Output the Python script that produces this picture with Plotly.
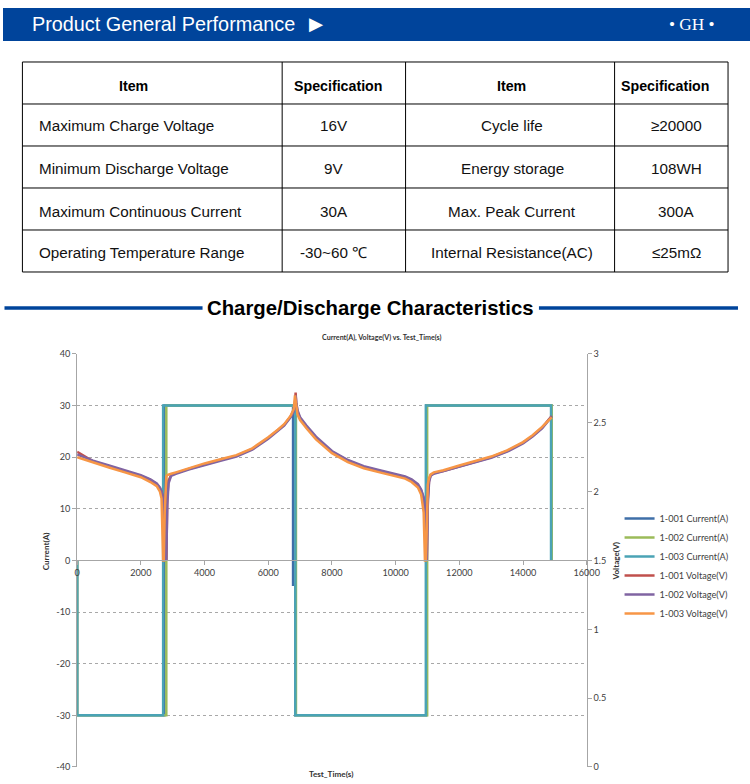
import plotly.graph_objects as go

W, H = 750, 784

# ---------------- table data ----------------
spec_header = ["Item", "Specification", "Item", "Specification"]
items_left = ["Maximum Charge Voltage", "Minimum Discharge Voltage",
              "Maximum Continuous Current", "Operating Temperature Range"]
specs_left = ["16V", "9V", "30A", "-30~60 ℃"]
items_right = ["Cycle life", "Energy storage", "Max. Peak Current", "Internal Resistance(AC)"]
specs_right = ["≥20000", "108WH", "300A", "≤25mΩ"]

# ---------------- chart data ----------------
page_title = "Product General Performance"
brand = "• GH •"
section_title = "Charge/Discharge Characteristics"
chart_title = "Current(A), Voltage(V) vs. Test_Time(s)"
x_title = "Test_Time(s)"
y_title = "Current(A)"
y2_title = "Voltage(V)"

x_ticks = [0, 2000, 4000, 6000, 8000, 10000, 12000, 14000, 16000]
current_ticks = [-40, -30, -20, -10, 0, 10, 20, 30, 40]
voltage_ticks = [0, 0.5, 1, 1.5, 2, 2.5, 3]

# Currents (A)
t_i1 = [0, 0, 2740, 2740, 6780, 6780, 6850, 6850, 10960, 10960, 14890, 14890]
i1 = [0, -30, -30, 30, 30, -4.7, -4.7, -30, -30, 30, 30, 0]
t_i2 = [0, 0, 2800, 2800, 6870, 6870, 10990, 10990, 14900, 14900]
i2 = [0, -30, -30, 30, 30, -30, -30, 30, 30, 0]
t_i3 = [0, 0, 2700, 2700, 6850, 6850, 10950, 10950, 14880, 14880]
i3 = [0, -30, -30, 30, 30, -30, -30, 30, 30, 0]

# Voltages (V)
t_v = [0, 500, 1000, 1500, 2000, 2300, 2500, 2600, 2650, 2700,
       2720, 2750, 2780, 2800, 2830, 2870, 2950, 3100, 3500, 4000,
       4500, 5000, 5500, 6000, 6300, 6500, 6700, 6800, 6840, 6860,
       6880, 6920, 7000, 7200, 7500, 8000, 8500, 9000, 9500, 10000,
       10300, 10500, 10700, 10800, 10880, 10920, 10950, 10980, 11010, 11050,
       11100, 11200, 11500, 12000, 12500, 13000, 13500, 14000, 14300, 14600,
       14900]
v1 = [2.29, 2.22, 2.185, 2.15, 2.115, 2.085, 2.055, 2.025, 2.0, 1.96,
      1.92, 1.8, 1.5, 1.5, 1.95, 2.08, 2.12, 2.135, 2.165, 2.2,
      2.23, 2.26, 2.31, 2.39, 2.445, 2.485, 2.545, 2.59, 2.64, 2.72,
      2.64, 2.58, 2.53, 2.47, 2.39, 2.29, 2.225, 2.18, 2.15, 2.125,
      2.105, 2.085, 2.05, 2.01, 1.95, 1.85, 1.6, 1.5, 1.95, 2.08,
      2.12, 2.135, 2.15, 2.185, 2.215, 2.25, 2.295, 2.355, 2.405, 2.465,
      2.55]
v2 = [2.27, 2.225, 2.19, 2.155, 2.12, 2.09, 2.06, 2.03, 2.0, 1.95,
      1.9, 1.72, 1.52, 1.5, 1.9, 2.06, 2.115, 2.13, 2.16, 2.195,
      2.225, 2.255, 2.305, 2.385, 2.44, 2.48, 2.54, 2.58, 2.63, 2.70,
      2.65, 2.59, 2.54, 2.48, 2.40, 2.295, 2.23, 2.185, 2.155, 2.13,
      2.11, 2.09, 2.055, 2.015, 1.96, 1.88, 1.65, 1.5, 1.9, 2.07,
      2.115, 2.13, 2.15, 2.18, 2.21, 2.245, 2.29, 2.35, 2.40, 2.46,
      2.545]
v3 = [2.25, 2.21, 2.175, 2.14, 2.105, 2.07, 2.04, 2.0, 1.95, 1.5,
      1.5, 1.85, 2.07, 2.11, 2.12, 2.125, 2.13, 2.14, 2.17, 2.205,
      2.235, 2.265, 2.315, 2.395, 2.45, 2.49, 2.55, 2.6, 2.7, 2.66,
      2.61, 2.56, 2.52, 2.46, 2.38, 2.28, 2.215, 2.17, 2.14, 2.115,
      2.095, 2.07, 2.03, 1.98, 1.85, 1.5, 1.5, 1.75, 2.05, 2.1,
      2.125, 2.14, 2.155, 2.19, 2.22, 2.255, 2.3, 2.36, 2.41, 2.47,
      2.54]

# ---------------- styling ----------------
BLUE = "#00449B"
FONT_S = "Lato, 'Open Sans', sans-serif"
FONT_T = "Arial, 'Liberation Sans', sans-serif"
AX = "#a6a6a6"
TXT = "#404040"

# layout positions below are given in picture pixels; these map them to paper
# fractions, allowing for the small scale/offset of the photographed page
SX, OX, SY, OY = 0.982, 2.5, 0.986, 5.0
FS = 1 / 0.984


def px(x):
    return (x - OX) / SX / W


def py(y):
    return 1 - (y - OY) / SY / H


def fs(size):
    return round(size * FS, 2)


fig = go.Figure()

current_series = [("1-001 Current(A)", t_i1, i1, "#3F6FA8"),
                  ("1-002 Current(A)", t_i2, i2, "#9BBB59"),
                  ("1-003 Current(A)", t_i3, i3, "#4AA3B5")]
voltage_series = [("1-001 Voltage(V)", v1, "#C0504D"),
                  ("1-002 Voltage(V)", v2, "#8064A2"),
                  ("1-003 Voltage(V)", v3, "#F79646")]

for name, tx, vals, col in current_series:
    fig.add_trace(go.Scatter(x=tx, y=vals, name=name, mode="lines",
                             line=dict(color=col, width=2.5), yaxis="y"))
for name, vals, col in voltage_series:
    fig.add_trace(go.Scatter(x=t_v, y=vals, name=name, mode="lines",
                             line=dict(color=col, width=2.5), yaxis="y2"))

ydom = [py(766), py(353)]
tickfont = dict(family=FONT_S, size=fs(9), color=TXT)
fig.update_layout(
    width=W, height=H, margin=dict(l=0, r=0, t=0, b=0),
    paper_bgcolor="white", plot_bgcolor="white",
    showlegend=True,
    legend=dict(x=px(622), y=py(503), xanchor="left", yanchor="top",
                font=dict(family=FONT_S, size=fs(9), color=TXT), itemwidth=30,
                bgcolor="rgba(0,0,0,0)"),
    xaxis=dict(domain=[px(77), px(589)], range=[0, 16000], tickvals=x_ticks,
               tickformat="d",
               anchor="free", position=(ydom[0] + ydom[1]) / 2,
               showline=True, linecolor=AX, linewidth=1, ticks="outside",
               ticklen=4, tickcolor=AX, showgrid=False, zeroline=False,
               tickfont=tickfont),
    yaxis=dict(domain=ydom, range=[-40, 40], tickvals=current_ticks,
               ticktext=[str(v) for v in current_ticks],
               showline=True, linecolor=AX, linewidth=1, ticks="outside",
               ticklen=4, tickcolor=AX, showgrid=True, gridcolor="#a8a8a8",
               griddash="dot", gridwidth=1, zeroline=False,
               tickfont=tickfont),
    yaxis2=dict(overlaying="y", side="right", anchor="x", range=[0, 3],
                tickvals=voltage_ticks, showline=True, linecolor=AX, linewidth=1,
                ticks="outside", ticklen=4, tickcolor=AX, showgrid=False,
                zeroline=False, tickfont=tickfont),
)

# Banner and section decorations
fig.add_shape(type="rect", xref="paper", yref="paper", x0=0, x1=1.05,
              y0=py(40), y1=py(7), fillcolor=BLUE, line=dict(width=0), layer="below")
for x0, x1 in [(4, 203), (541, 741)]:
    fig.add_shape(type="line", xref="paper", yref="paper", x0=px(x0), x1=px(x1),
                  y0=py(307), y1=py(307), line=dict(color=BLUE, width=3.5))

# Spec table grid
col_edges = [22, 283, 407, 617, 731]
row_edges = [61, 103, 145, 187, 229, 271]
for yy in row_edges:
    fig.add_shape(type="line", xref="paper", yref="paper", x0=px(col_edges[0]),
                  x1=px(col_edges[-1]), y0=py(yy), y1=py(yy),
                  line=dict(color="black", width=1))
for xx in col_edges:
    fig.add_shape(type="line", xref="paper", yref="paper", x0=px(xx), x1=px(xx),
                  y0=py(row_edges[0]), y1=py(row_edges[-1]),
                  line=dict(color="black", width=1))

header_x = [134, 340, 513, 668]
for hx, h in zip(header_x, spec_header):
    fig.add_annotation(xref="paper", yref="paper", x=px(hx), y=py(85), text="<b>" + h + "</b>",
                       showarrow=False, xanchor="center", yanchor="middle",
                       font=dict(family=FONT_T, size=fs(14), color="black"))

row_y = [125, 168, 211, 252]
columns = [(items_left, 37, "left"), (specs_left, 335, "center"),
           (items_right, 514, "center"), (specs_right, 679, "center")]
for vals, cx, anchor in columns:
    for ry, s in zip(row_y, vals):
        fig.add_annotation(xref="paper", yref="paper", x=px(cx), y=py(ry), text=s,
                           showarrow=False, xanchor=anchor, yanchor="middle",
                           font=dict(family=FONT_T, size=fs(15), color="#111111"))

ann = [
    dict(text=page_title, x=px(30), y=py(23), xanchor="left",
         font=dict(family=FONT_T, size=fs(19.5), color="white")),
    dict(text="▶", x=px(308), y=py(23), xanchor="left",
         font=dict(family="DejaVu Sans", size=fs(18), color="white")),
    dict(text=brand, x=px(695), y=py(24), xanchor="center",
         font=dict(family="'Liberation Serif', serif", size=fs(17), color="white")),
    dict(text="<b>" + section_title + "</b>", x=px(372), y=py(307), xanchor="center",
         font=dict(family=FONT_T, size=fs(20), color="black")),
    dict(text="<b>" + chart_title + "</b>", x=px(383), y=py(337), xanchor="center",
         font=dict(family=FONT_S, size=fs(7), color="#333333")),
    dict(text="<b>" + x_title + "</b>", x=px(332), y=py(773), xanchor="center",
         font=dict(family=FONT_S, size=fs(8), color="#333333")),
    dict(text="<b>" + y_title + "</b>", x=px(46), y=py(550), xanchor="center", textangle=-90,
         font=dict(family=FONT_S, size=fs(8), color="#333333")),
    dict(text="<b>" + y2_title + "</b>", x=px(618), y=py(560), xanchor="center", textangle=-90,
         font=dict(family=FONT_S, size=fs(8), color="#333333")),
]
for a in ann:
    fig.add_annotation(xref="paper", yref="paper", showarrow=False, yanchor="middle", **a)

post = (
    "var gd=document.getElementById('{plot_id}');"
    "[document.documentElement.style, document.body.style].forEach(function(s){"
    "s.margin='0';s.padding='0';s.overflow='hidden';s.width='750px';s.height='784px';});"
    "gd.style.overflow='hidden';"
)
fig.write_html("out.html", config={"displayModeBar": False}, post_script=post)
